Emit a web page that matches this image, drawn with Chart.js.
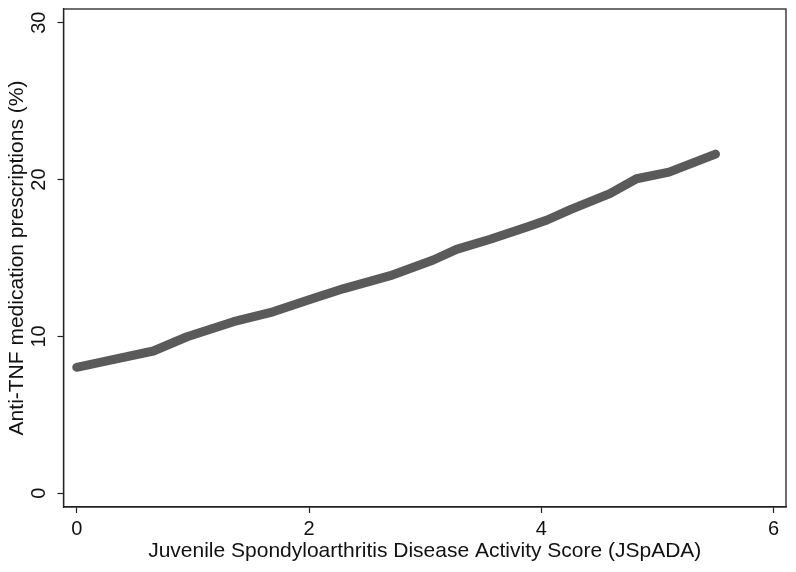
<!DOCTYPE html>
<html>
<head>
<meta charset="utf-8">
<script src="https://cdn.jsdelivr.net/npm/chart.js@4"></script>
<style>
  html, body { margin: 0; padding: 0; background: #fff; }
  #wrap { width: 796px; height: 572px; }
</style>
</head>
<body>
<div id="wrap"><canvas id="myChart" width="796" height="572"></canvas></div>
<script>
// values
const jspada = [0, 0.23, 0.66, 0.95, 1.35, 1.69, 2.04, 2.3, 2.70, 3.07, 3.27, 3.56, 3.89, 4.05, 4.25, 4.59, 4.82, 5.10, 5.50];
const antiTnf = [8.03, 8.39, 9.07, 9.98, 10.94, 11.57, 12.43, 13.05, 13.87, 14.87, 15.55, 16.19, 17.0, 17.42, 18.08, 19.1, 20.05, 20.47, 21.62];
const xTicks = [0, 2, 4, 6];
const yTicks = [0, 10, 20, 30];

const font = "'Liberation Sans', Arial, Helvetica, sans-serif";

// box all the way round the plot region
const frame = {
  id: 'frame',
  afterDraw(chart) {
    const a = chart.chartArea, c = chart.ctx;
    c.save();
    c.strokeStyle = '#222';
    c.lineWidth = 1.3;
    c.strokeRect(a.left, a.top, a.right - a.left, a.bottom - a.top);
    c.restore();
  }
};

const ctx = document.getElementById('myChart');
new Chart(ctx, {
  type: 'scatter',
  data: {
    datasets: [{
      data: jspada.map((x, i) => ({ x: x, y: antiTnf[i] })),
      showLine: true,
      borderColor: '#5a5a5a',
      borderWidth: 9,
      borderCapStyle: 'round',
      borderJoinStyle: 'round',
      pointRadius: 0,
      tension: 0
    }]
  },
  options: {
    responsive: false,
    animation: false,
    layout: { padding: { left: 0, right: 10, top: 9, bottom: 0 } },
    plugins: { legend: { display: false }, tooltip: { enabled: false } },
    scales: {
      x: {
        type: 'linear',
        min: -0.114,
        max: 6.107,
        afterBuildTicks: s => { s.ticks = xTicks.map(v => ({ value: v })); },
        afterFit: s => { s.height = 65; s.paddingLeft = 0; s.paddingRight = 0; },
        grid: { drawOnChartArea: false, tickLength: 6, tickColor: '#222', tickWidth: 1.2 },
        border: { color: '#222', width: 1.3 },
        ticks: { color: '#111', font: { family: font, size: 20 }, padding: 4, maxRotation: 0 },
        title: { display: true, text: 'Juvenile Spondyloarthritis Disease Activity Score (JSpADA)', color: '#111', font: { family: font, size: 21 }, padding: { top: 0, bottom: 8 } }
      },
      y: {
        type: 'linear',
        min: -0.873,
        max: 30.87,
        afterBuildTicks: s => { s.ticks = yTicks.map(v => ({ value: v })); },
        afterFit: s => { s.width = 63.5; s.paddingTop = 0; s.paddingBottom = 0; },
        grid: { drawOnChartArea: false, tickLength: 6, tickColor: '#222', tickWidth: 1.2 },
        border: { color: '#222', width: 1.3 },
        ticks: { color: '#111', font: { family: font, size: 20 }, padding: 7, minRotation: 90, maxRotation: 90, crossAlign: 'center' },
        title: { display: true, text: 'Anti-TNF medication prescriptions (%)', color: '#111', font: { family: font, size: 21 }, padding: { top: 5, bottom: 0 } }
      }
    }
  },
  plugins: [frame]
});
</script>
</body>
</html>
